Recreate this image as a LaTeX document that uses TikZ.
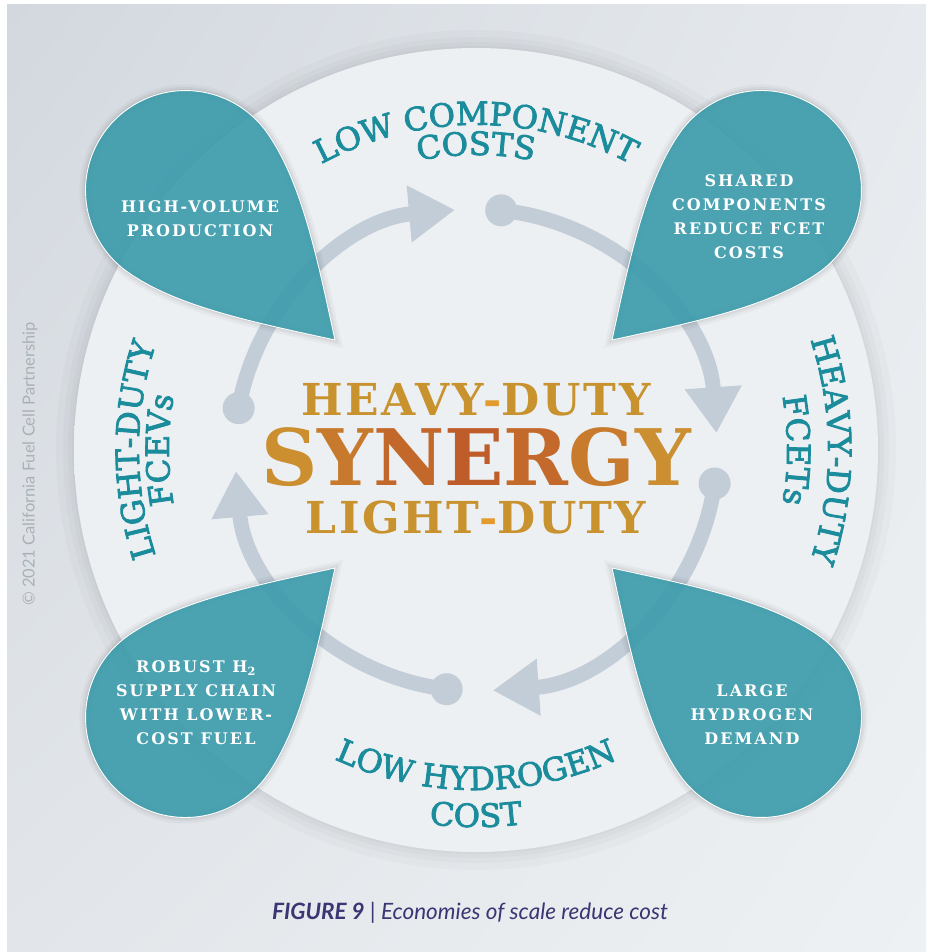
\documentclass[tikz,border=0pt]{standalone}
\usepackage{fontspec}
\setmainfont{DejaVu Serif}
\setsansfont{Lato}
\newfontfamily\dropfont{DejaVu Serif}[LetterSpace=13]
\newfontfamily\headfont{DejaVu Serif}[LetterSpace=6]
\newfontfamily\synfont{DejaVu Serif}
\newfontfamily\arcfont{DejaVu Serif}[FakeBold=2.5]
\usetikzlibrary{arrows.meta,decorations.text,calc,positioning,shadings}

\definecolor{bgA}{HTML}{D3D8DF}
\definecolor{bgB}{HTML}{E6EAEE}
\definecolor{bgC}{HTML}{E2E6EA}
\definecolor{bgD}{HTML}{EEF1F3}
\definecolor{diskin}{HTML}{EDF0F3}
\definecolor{disktrack}{HTML}{F5F6F8}
\definecolor{ringedge}{HTML}{D3DAE0}
\definecolor{ringmid}{HTML}{E8ECEF}
\definecolor{ringin}{HTML}{F6F7F8}
\definecolor{ringout}{HTML}{EBEEF1}
\definecolor{ringrim}{HTML}{DCE2E6}
\definecolor{arrowgrey}{HTML}{C3CDD8}
\definecolor{dropteal}{HTML}{3A9BAB}
\definecolor{labelteal}{HTML}{1B8C9C}
\definecolor{gold}{HTML}{C8922E}
\definecolor{hyph}{HTML}{E29B2C}
\definecolor{synA}{HTML}{CB8F30}
\definecolor{synB}{HTML}{C77A2D}
\definecolor{synC}{HTML}{C2682B}
\definecolor{synD}{HTML}{BE5D2A}
\definecolor{synE}{HTML}{C2692B}
\definecolor{synF}{HTML}{C87B2D}
\definecolor{synG}{HTML}{CB8E30}
\definecolor{capblue}{HTML}{3B3573}
\definecolor{copygrey}{HTML}{A9B1B7}

\pgfdeclareradialshading{ringshade}{\pgfpoint{0bp}{0bp}}{color(0bp)=(diskin); color(28bp)=(diskin); color(31bp)=(disktrack); color(33bp)=(disktrack); color(33.4bp)=(ringedge); color(35bp)=(ringmid); color(37bp)=(ringin); color(45bp)=(ringin); color(48.5bp)=(ringout); color(50bp)=(ringrim)}

\newcommand{\droppath}{(0,0) .. controls (70,45) and (135,88) .. (194,98.5) arc[start angle=100, end angle=-100, radius=100] .. controls (135,-88) and (70,-45) .. (0,0) -- cycle}
\newcommand{\arcsize}{\arcfont\fontsize{32}{32}\selectfont}

\begin{document}
\begin{tikzpicture}[x=1pt, y=1pt]
                \tikzstyle{drop}=[fill=dropteal, fill opacity=0.9, draw=white, line width=0.9pt]
                \tikzstyle{droptext}=[text=white, align=center,
                    font=\dropfont\bfseries\fontsize{16}{24}\selectfont]
                \tikzstyle{headtext}=[text=gold, anchor=base,
                    font=\headfont\bfseries\fontsize{44}{44}\selectfont]
                \tikzstyle{flow}=[draw=arrowgrey, line width=15pt,
                    -{Triangle[width=54pt, length=46pt]}]
                \tikzstyle{arclabel}=[decorate, decoration={text along path,
                    text align=center, text color=labelteal}]

                \useasboundingbox (0,0) rectangle (926,-952);
                \fill[white] (0,0) rectangle (926,-952);
                \shade[upper left=bgA, upper right=bgB, lower left=bgC, lower right=bgD]
                    (7,-5) rectangle (926,-952);

                \coordinate (O) at (476,-450);
                \foreach \r in {420, 413, 408, 404}
                    \fill[black, fill opacity=0.02] (O) circle (\r);
                \shade[shading=ringshade] (O) circle (402);

                \foreach \i/\s/\e in {1/84/4, 2/-8/-86, 3/-97/-175, 4/-190/-265} {
                    \coordinate (D-\i) at ([shift={(\s:241)}]O);
                    \fill[arrowgrey] (D-\i) circle (16);
                    \draw[flow] (D-\i) arc[start angle=\s, end angle=\e, radius=241];
                }

                \node[headtext] (HD) at (476,-415) {HEAVY{\color{hyph}-}DUTY};
                \node[anchor=base, font=\synfont\bfseries\fontsize{78}{78}\selectfont] (SYN)
                    at (476,-485) {\color{synA}S\color{synB}Y\color{synC}N\color{synD}E\color{synE}R\color{synF}G\color{synG}Y};
                \node[headtext] (LD) at (476,-533) {LIGHT{\color{hyph}-}DUTY};

                \path[arclabel, decoration={text={|\arcsize|LOW COMPONENT}}]
                    ([shift={(150:325)}]O) arc[start angle=150, end angle=30, radius=325];
                \path[arclabel, decoration={text={|\arcsize|COSTS}}]
                    ([shift={(150:295)}]O) arc[start angle=150, end angle=30, radius=295];
                \path[arclabel, decoration={text={|\arcsize|LIGHT-DUTY}}]
                    ([shift={(240:337)}]O) arc[start angle=240, end angle=120, radius=337];
                \path[arclabel, decoration={text={|\arcsize|FCEVs}}]
                    ([shift={(240:307)}]O) arc[start angle=240, end angle=120, radius=307];
                \path[arclabel, decoration={text={|\arcsize|HEAVY-DUTY}}]
                    ([shift={(60:352)}]O) arc[start angle=60, end angle=-60, radius=352];
                \path[arclabel, decoration={text={|\arcsize|FCETs}}]
                    ([shift={(60:311)}]O) arc[start angle=60, end angle=-60, radius=311];
                \path[arclabel, decoration={text={|\arcsize|LOW HYDROGEN}}]
                    ([shift={(210:340)}]O) arc[start angle=210, end angle=330, radius=340];
                \path[arclabel, decoration={text={|\arcsize|COST}}]
                    ([shift={(210:377)}]O) arc[start angle=210, end angle=330, radius=377];

                \foreach \name/\x/\y/\a in {TL/335/-340/135, TR/612/-340/45,
                                           BL/335/-568/225, BR/612/-568/-45} {
                    \foreach \w/\o in {12/0.03, 7/0.04, 3/0.05}
                        \path[draw=black, draw opacity=\o, line width=\w pt,
                            shift={(\x,\y)}, rotate=\a] \droppath;
                    \path[drop, shift={(\x,\y)}, rotate=\a] \droppath;
                }

                \node[droptext] (TL-text) at (200,-219) {HIGH-VOLUME\\PRODUCTION};
                \node[droptext] (TR-text) at (749,-217) {SHARED\\COMPONENTS\\REDUCE FCET\\COSTS};
                \node[droptext] (BL-text) at (196,-703) {ROBUST H\textsubscript{2}\\SUPPLY CHAIN\\WITH LOWER-\\COST FUEL};
                \node[droptext] (BR-text) at (752,-715) {LARGE\\HYDROGEN\\DEMAND};

                \node[text=capblue, font=\sffamily\itshape\fontsize{22.5}{22.5}\selectfont] (cap)
                    at (470,-913) {\textbf{FIGURE 9} | Economies of scale reduce cost};
                \node[rotate=90, text=copygrey, font=\sffamily\fontsize{16.5}{16.5}\selectfont] (copy)
                    at (30,-464) {© 2021 California Fuel Cell Partnership};
            \end{tikzpicture}
\end{document}
